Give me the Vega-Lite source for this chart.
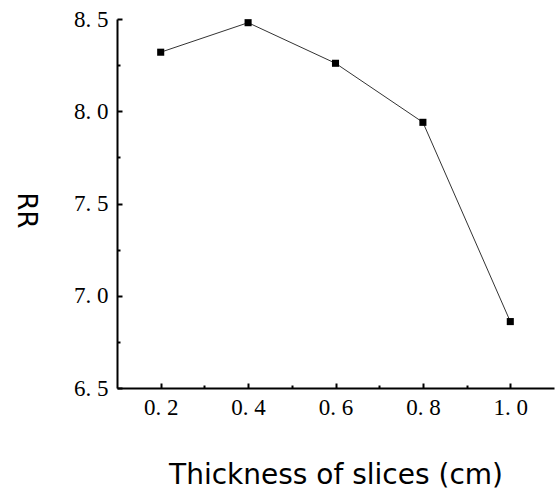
{
  "$schema": "https://vega.github.io/schema/vega-lite/v6.json",
  "autosize": "none",
  "width": 437,
  "height": 369,
  "padding": {"left": 117, "top": 19, "right": 2, "bottom": 102},
  "background": "white",
  "data": {"values": [
    {"t": 0.2, "rr": 8.32},
    {"t": 0.4, "rr": 8.48},
    {"t": 0.6, "rr": 8.26},
    {"t": 0.8, "rr": 7.94},
    {"t": 1.0, "rr": 6.86}
  ]},
  "config": {"view": {"stroke": null}},
  "encoding": {
    "x": {"field": "t", "type": "quantitative",
      "scale": {"domain": [0.1, 1.1], "nice": false, "zero": false},
      "axis": {
        "title": "Thickness of slices (cm)",
        "titleFont": "DejaVu Sans", "titleFontSize": 28, "titleFontWeight": "normal", "titleColor": "black",
        "titleBaseline": "alphabetic", "titleY": 95, "titleAlign": "center",
        "values": [0.2, 0.3, 0.4, 0.5, 0.6, 0.7, 0.8, 0.9, 1.0],
        "labelExpr": "round(datum.value*10) % 2 == 1 ? '' : replace(format(datum.value, '.1f'), '.', '. ')",
        "labelFont": "Liberation Serif", "labelFontSize": 23, "labelColor": "black",
        "labelPadding": 13,
        "grid": false,
        "domainColor": "black", "domainWidth": 2,
        "tickColor": "black", "tickWidth": 2,
        "tickSize": {"condition": {"test": "round(datum.value*10) % 2 == 1", "value": -3}, "value": -5}
      }
    },
    "y": {"field": "rr", "type": "quantitative",
      "scale": {"domain": [6.5, 8.5], "nice": false, "zero": false},
      "axis": {
        "title": "RR",
        "titleFont": "DejaVu Sans", "titleFontSize": 26, "titleFontWeight": "normal", "titleColor": "black",
        "titleAngle": 90, "titleX": -92, "titleY": 191, "titleAlign": "center", "titleBaseline": "middle",
        "values": [6.5, 6.75, 7.0, 7.25, 7.5, 7.75, 8.0, 8.25, 8.5],
        "labelExpr": "(datum.value*4) % 2 == 1 ? '' : replace(format(datum.value, '.1f'), '.', '. ')",
        "labelFont": "Liberation Serif", "labelFontSize": 23, "labelColor": "black",
        "labelPadding": 14,
        "grid": false,
        "domainColor": "black", "domainWidth": 2,
        "tickColor": "black", "tickWidth": 2,
        "tickSize": {"condition": {"test": "(datum.value*4) % 2 == 1", "value": -3}, "value": -5}
      }
    }
  },
  "layer": [
    {"mark": {"type": "line", "color": "#333333", "strokeWidth": 1}},
    {"mark": {"type": "point", "shape": "square", "filled": true, "color": "black", "opacity": 1, "size": 50}}
  ]
}
